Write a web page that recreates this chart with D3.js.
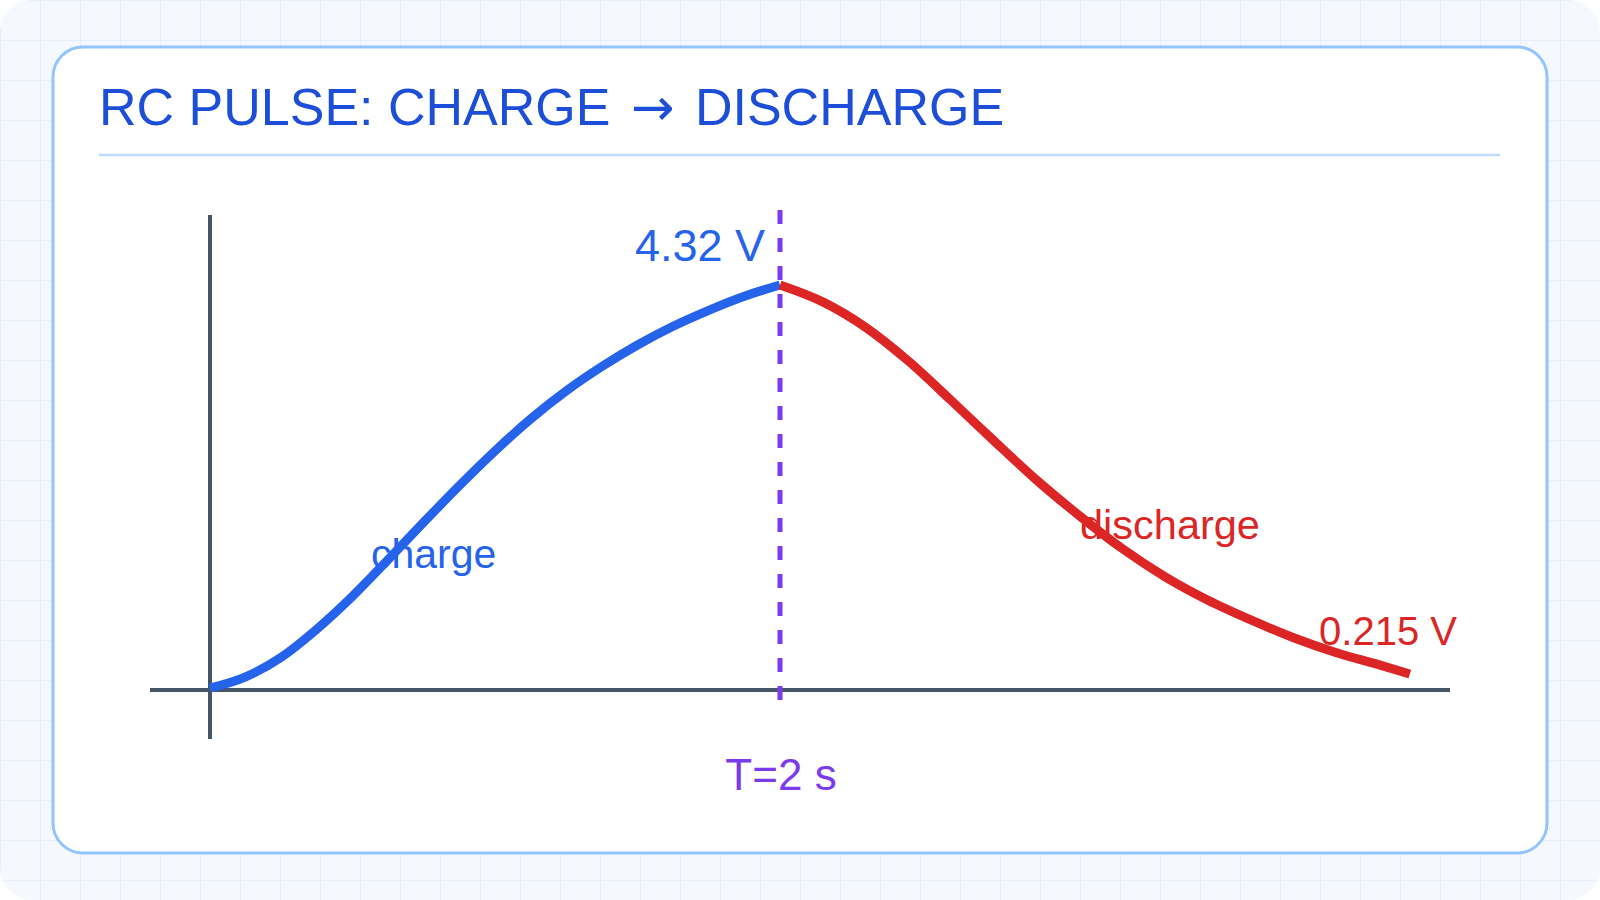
<!DOCTYPE html>
<html>
<head>
<meta charset="utf-8">
<title>RC pulse</title>
<script src="https://cdn.jsdelivr.net/npm/d3@7"></script>
<style>
  html, body { margin: 0; padding: 0; background: #fff; }
  svg { display: block; font-family: "Liberation Sans", Arial, Helvetica, sans-serif; }
</style>
</head>
<body>
<svg id="chart" width="1600" height="900"></svg>
<script>
// values
var chargeT = [0, 0.125, 0.25, 0.375, 0.5, 0.625, 0.75, 0.875, 1, 1.125, 1.25, 1.375, 1.5, 1.625, 1.75, 1.875, 2];
var chargeV = [0.02, 0.14, 0.35, 0.65, 1.0, 1.39, 1.79, 2.18, 2.55, 2.89, 3.19, 3.45, 3.68, 3.88, 4.05, 4.2, 4.32];
var dischargeT = [2, 2.15, 2.3, 2.45, 2.6, 2.75, 2.9, 3.05, 3.2, 3.35, 3.5, 3.65, 3.8, 3.95, 4.1, 4.21];
var dischargeV = [4.32, 4.14, 3.87, 3.51, 3.09, 2.66, 2.24, 1.86, 1.51, 1.21, 0.96, 0.75, 0.56, 0.4, 0.27, 0.17];

var pulseT = 2;
var titleParts = ['RC PULSE: CHARGE ', '\u2192', ' DISCHARGE'];
var peakLabel = '4.32 V';
var endLabel = '0.215 V';
var pulseLabel = 'T=2 s';
var seriesLabels = ['charge', 'discharge'];

var W = 1600, H = 900;
var blue = '#2563eb', red = '#dc2626', purple = '#7c3aed', axisCol = '#475569';

var svg = d3.select('#chart');

// page background with grid
var defs = svg.append('defs');
var pat = defs.append('pattern').attr('id', 'grid').attr('width', 40).attr('height', 40)
    .attr('patternUnits', 'userSpaceOnUse');
pat.append('rect').attr('width', 40).attr('height', 40).attr('fill', '#f5f9ff');
pat.append('path').attr('d', 'M40 0 L0 0 L0 40').attr('fill', 'none')
    .attr('stroke', '#e2ecfb').attr('stroke-width', 1.5);
svg.append('rect').attr('width', W).attr('height', H).attr('rx', 32).attr('fill', 'url(#grid)');

// card
svg.append('rect').attr('x', 53).attr('y', 47).attr('width', 1494).attr('height', 806)
    .attr('rx', 30).attr('fill', '#fff').attr('stroke', '#93c5fd').attr('stroke-width', 3);

var title = svg.append('text').attr('x', 99).attr('y', 125).attr('fill', '#1d4ed8')
    .attr('font-size', 52).attr('xml:space', 'preserve');
title.append('tspan').text(titleParts[0]);
title.append('tspan').attr('dx', 6).attr('font-family', '"DejaVu Sans", sans-serif')
    .attr('font-size', 52).text(titleParts[1]);
title.append('tspan').attr('dx', 6).text(titleParts[2]);

svg.append('line').attr('x1', 99).attr('x2', 1500).attr('y1', 155).attr('y2', 155)
    .attr('stroke', '#bfdbfe').attr('stroke-width', 2.5);

var x = d3.scaleLinear().domain([0, pulseT]).range([210, 780]);
var y = d3.scaleLinear().domain([0, 4.32]).range([690, 285]);

// axes
svg.append('line').attr('x1', 150).attr('x2', 1450).attr('y1', y(0)).attr('y2', y(0))
    .attr('stroke', axisCol).attr('stroke-width', 4);
svg.append('line').attr('x1', x(0)).attr('x2', x(0)).attr('y1', 215).attr('y2', 739)
    .attr('stroke', axisCol).attr('stroke-width', 4);

// pulse end marker
svg.append('line').attr('x1', x(pulseT)).attr('x2', x(pulseT)).attr('y1', 210).attr('y2', 700)
    .attr('stroke', purple).attr('stroke-width', 5).attr('stroke-dasharray', '14 14');

var line = d3.line()
    .x(function(d){ return x(d[0]); })
    .y(function(d){ return y(d[1]); })
    .curve(d3.curveMonotoneX);

var charge = d3.zip(chargeT, chargeV);
var discharge = d3.zip(dischargeT, dischargeV);

svg.append('path').datum(charge).attr('d', line).attr('fill', 'none')
    .attr('stroke', blue).attr('stroke-width', 9);
svg.append('path').datum(discharge).attr('d', line).attr('fill', 'none')
    .attr('stroke', red).attr('stroke-width', 9);

// labels
svg.append('text').attr('x', x(pulseT) - 15).attr('y', 261).attr('text-anchor', 'end')
    .attr('fill', blue).attr('font-size', 45).text(peakLabel);
svg.append('text').attr('x', 1457).attr('y', 645).attr('text-anchor', 'end')
    .attr('fill', red).attr('font-size', 40).text(endLabel);
svg.append('text').attr('x', 371).attr('y', 568)
    .attr('fill', blue).attr('font-size', 41).text(seriesLabels[0]);
svg.append('text').attr('x', 1080).attr('y', 539)
    .attr('fill', red).attr('font-size', 41.5).text(seriesLabels[1]);
svg.append('text').attr('x', x(pulseT) + 1).attr('y', 790).attr('text-anchor', 'middle')
    .attr('fill', purple).attr('font-size', 44).text(pulseLabel);
</script>
</body>
</html>
